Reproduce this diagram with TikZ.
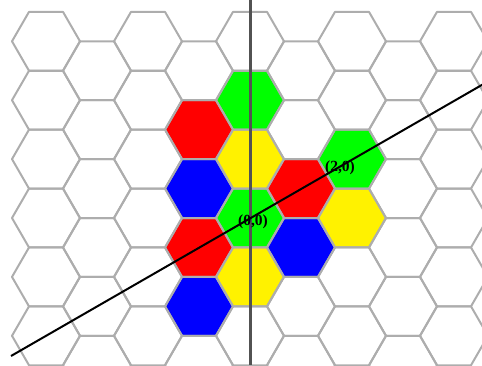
\documentclass[tikz,border=0pt]{standalone}
\usepackage{fontspec}
\setmainfont{Liberation Serif}
\begin{document}
\begin{tikzpicture}[x=1pt,y=-1pt]
\tikzset{
  cell/.style={draw=black!32, line width=2pt, line join=round},
  axis/.style={draw=black!68, line width=3pt},
  slant/.style={draw=black, line width=2pt},
  lbl/.style={font=\fontsize{15.5}{15.5}\selectfont\bfseries, inner sep=0pt}
}
\useasboundingbox (0,0) rectangle (482,365);
\clip (0,0) rectangle (482,365);
\foreach \q/\r/\col in {0/2/green, 0/1/yellow, 0/0/green, 0/-1/yellow,
  -1/2/red, -1/1/blue, -1/0/red, -1/-1/blue,
  1/0/red, 1/-1/blue, 2/0/green, 2/-1/yellow}{
  \pgfmathsetmacro\hx{250+51*\q}
  \pgfmathsetmacro\hy{218-29.45*\q-58.9*\r}
  \fill[\col] (\hx,\hy) +(0:34) -- +(60:34) -- +(120:34) -- +(180:34) -- +(240:34) -- +(300:34) -- cycle;
}
\foreach \c in {-4,...,4}
  \foreach \j in {0,...,5}{
    \pgfmathsetmacro\hx{250+51*\c}
    \pgfmathsetmacro\hy{41.3+29.45*mod(abs(\c),2)+58.9*\j}
    \draw[cell] (\hx,\hy) +(0:34) -- +(60:34) -- +(120:34) -- +(180:34) -- +(240:34) -- +(300:34) -- cycle;
  }
\coordinate (vtop) at (250,0);
\coordinate (vbot) at (250,365);
\coordinate (sfrom) at (11,356);
\coordinate (sto) at (500,74.5);
\draw[axis] (vtop) -- (vbot);
\draw[slant] (sfrom) -- (sto);
\node[lbl] (origin) at (253,222) {(0,0)};
\node[lbl] (twozero) at (340,168) {(2,0)};
\end{tikzpicture}
\end{document}
